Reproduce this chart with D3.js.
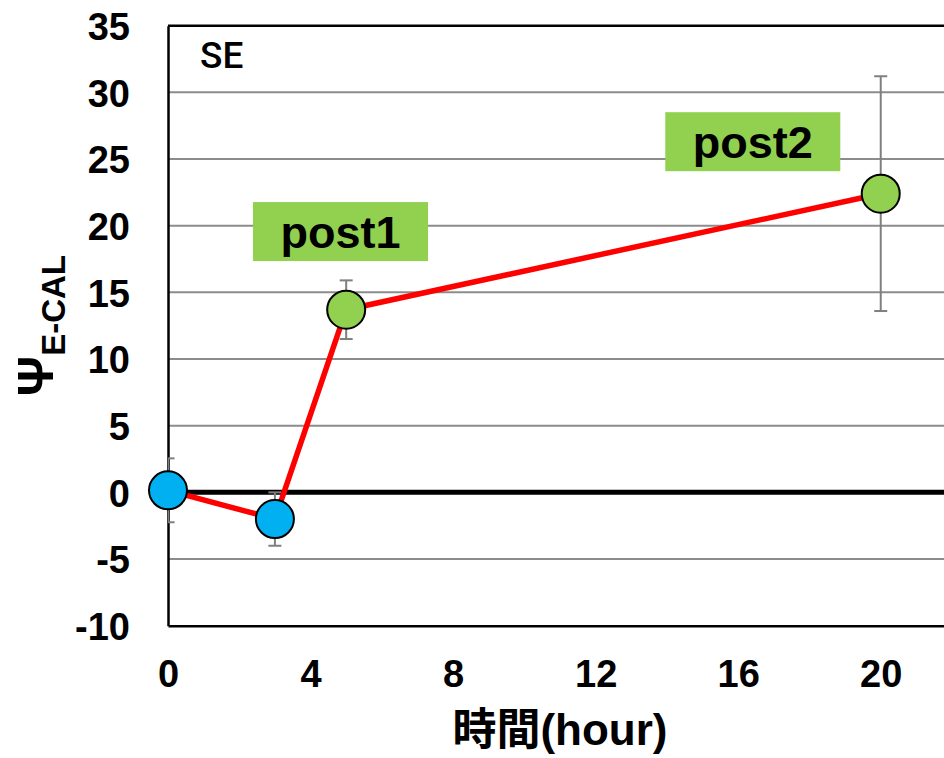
<!DOCTYPE html>
<html><head><meta charset="utf-8">
<script src="https://cdn.jsdelivr.net/npm/d3@7"></script>
<style>body{margin:0;background:#fff}svg{display:block}</style>
</head><body>
<script>
// Data
const hours = [0, 3, 5, 20];
const values = [0.15, -2.0, 13.7, 22.4];
const errors = [2.4, 2.0, 2.2, 8.8];
const pointColors = ["#00B0F0", "#00B0F0", "#92D050", "#92D050"];
const xTicks = [0, 4, 8, 12, 16, 20];
const yTicks = [-10, -5, 0, 5, 10, 15, 20, 25, 30, 35];
const annotLabels = ["post1", "post2"];
const annotX = [4.84, 16.41];
const annotY = [19.56, 26.3];

const W = 944, H = 758;
const m = {left: 168, top: 25.7, right: 952, bottom: 625.7};
const svg = d3.select("body").append("svg").attr("width", W).attr("height", H);
const x = d3.scaleLinear().domain([0, 22]).range([m.left, m.right]);
const y = d3.scaleLinear().domain([-10, 35]).range([m.bottom, m.top]);

svg.append("defs").append("clipPath").attr("id", "clip")
  .append("rect").attr("x", m.left).attr("y", m.top).attr("width", m.right - m.left).attr("height", m.bottom - m.top);

// gridlines
svg.append("g").selectAll("line").data(yTicks.filter(d => d !== 0 && d !== -10 && d !== 35)).join("line")
  .attr("x1", m.left).attr("x2", m.right).attr("y1", d => y(d)).attr("y2", d => y(d))
  .attr("stroke", "#8c8c8c").attr("stroke-width", 2);

// zero line
svg.append("line").attr("x1", m.left).attr("x2", m.right).attr("y1", y(0)).attr("y2", y(0))
  .attr("stroke", "#000").attr("stroke-width", 5);

// axes frame
const fmt = d => String(d);
const yAxis = d3.axisLeft(y).tickValues(yTicks).tickSize(0).tickPadding(38).tickFormat(fmt);
const gy = svg.append("g").attr("transform", `translate(${m.left},0)`).call(yAxis);
gy.select(".domain").attr("stroke", "#000").attr("stroke-width", 2.5);
gy.selectAll("text").attr("font-family", "Liberation Sans, Arial, sans-serif").attr("font-weight", "bold")
  .attr("font-size", 38).attr("fill", "#000").attr("dy", "0.36em");

const xAxis = d3.axisBottom(x).tickValues(xTicks).tickSize(0).tickPadding(34).tickFormat(fmt);
const gx = svg.append("g").attr("transform", `translate(0,${m.bottom})`).call(xAxis);
gx.select(".domain").attr("stroke", "#000").attr("stroke-width", 2.5);
gx.selectAll("text").attr("font-family", "Liberation Sans, Arial, sans-serif").attr("font-weight", "bold")
  .attr("font-size", 38).attr("fill", "#000");

svg.append("line").attr("x1", m.left).attr("x2", m.right).attr("y1", m.top).attr("y2", m.top)
  .attr("stroke", "#000").attr("stroke-width", 2.5);

const plot = svg.append("g").attr("clip-path", "url(#clip)");

// error bars (clipped to plot area)
const eb = plot.append("g").attr("stroke", "#7f7f7f").attr("stroke-width", 2);
hours.forEach((h, i) => {
  const cx = x(h), top = y(values[i] + errors[i]), bot = y(values[i] - errors[i]);
  eb.append("line").attr("x1", cx).attr("x2", cx).attr("y1", top).attr("y2", bot);
  eb.append("line").attr("x1", cx - 6.5).attr("x2", cx + 6.5).attr("y1", top).attr("y2", top);
  eb.append("line").attr("x1", cx - 6.5).attr("x2", cx + 6.5).attr("y1", bot).attr("y2", bot);
});

// line
svg.append("path").datum(hours.map((h, i) => [h, values[i]]))
  .attr("d", d3.line().x(d => x(d[0])).y(d => y(d[1])))
  .attr("fill", "none").attr("stroke", "#ff0000").attr("stroke-width", 5.5);

// points
svg.append("g").selectAll("circle").data(hours).join("circle")
  .attr("cx", d => x(d)).attr("cy", (d, i) => y(values[i])).attr("r", 19)
  .attr("fill", (d, i) => pointColors[i]).attr("stroke", "#000").attr("stroke-width", 2);

// annotations
annotLabels.forEach((t, i) => {
  const cx = x(annotX[i]), cy = y(annotY[i]);
  svg.append("rect").attr("x", cx - 87.5).attr("y", cy - 29.5).attr("width", 175).attr("height", 59).attr("fill", "#92D050");
  svg.append("text").attr("x", cx).attr("y", cy + 16).attr("text-anchor", "middle")
    .attr("font-family", "Liberation Sans, Arial, sans-serif").attr("font-weight", "bold").attr("font-size", 45)
    .attr("fill", "#000").text(t);
});

// SE label
svg.append("text").attr("x", 200).attr("y", 68).attr("font-family", "Roboto, Liberation Sans, sans-serif")
  .attr("font-weight", 500).attr("font-size", 37).attr("fill", "#000").text("SE");

// x title
svg.append("text").attr("x", (m.left + m.right) / 2).attr("y", 745).attr("text-anchor", "middle")
  .attr("font-family", "Liberation Sans, 'Noto Sans CJK JP', sans-serif").attr("font-weight", "bold").attr("font-size", 44)
  .attr("fill", "#000").text("時間(hour)");

// y title
const yt = svg.append("text").attr("transform", `translate(53,${(m.top + m.bottom) / 2}) rotate(-90)`)
  .attr("text-anchor", "middle").attr("font-family", "Liberation Sans, Arial, sans-serif").attr("font-weight", "bold").attr("fill", "#000");
yt.append("tspan").attr("font-size", 50).text("Ψ");
yt.append("tspan").attr("font-size", 33).attr("dy", 12).text("E-CAL");
</script>
</body></html>
